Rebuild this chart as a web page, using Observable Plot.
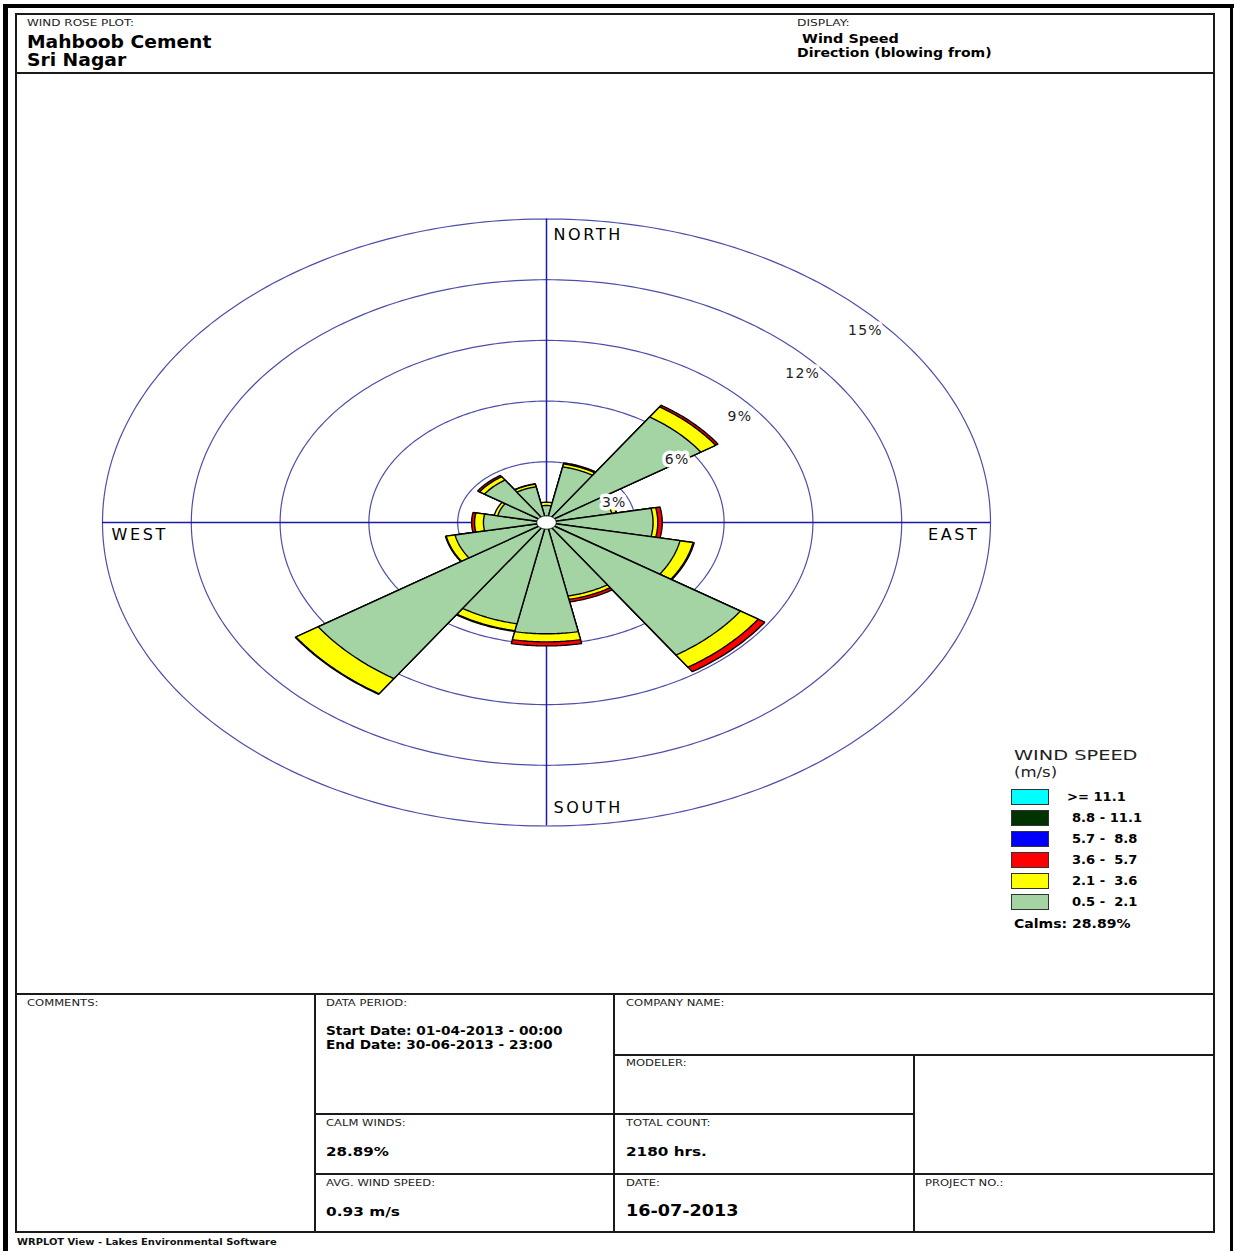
<!DOCTYPE html>
<html><head><meta charset="utf-8">
<script src="https://cdn.jsdelivr.net/npm/d3@7"></script>
<script src="https://cdn.jsdelivr.net/npm/@observablehq/plot@0.6"></script>
<style>
html,body{margin:0;padding:0;background:#fff;}
#page{position:relative;width:1234px;height:1251px;overflow:hidden;font-family:"DejaVu Sans",sans-serif;background:#fff;}
.t{position:absolute;white-space:pre;transform-origin:0 50%;color:#000;}
.ln{position:absolute;background:#1a1a1a;}
.sw{position:absolute;box-sizing:border-box;border:1px solid #333;}
#chart{position:absolute;left:16px;top:74px;}
</style></head><body><div id="page"></div>
<script>
// ---------------- DATA ----------------
const directions = ["N","NNE","NE","ENE","E","ESE","SE","SSE","S","SSW","SW","WSW","W","WNW","NW","NNW"];
// frequency (%) per direction for each wind-speed class (m/s)
const pct_05_21  = [0.84, 2.80, 6.27, 2.25, 3.60, 4.60, 7.88, 3.70, 5.50, 5.10, 9.28, 3.15, 2.13, 1.68, 2.52, 1.80];
const pct_21_36  = [0.16, 0.15, 0.60, 0.15, 0.16, 0.45, 0.72, 0.17, 0.40, 0.35, 0.90, 0.30, 0.30, 0.12, 0.20, 0.13];
const pct_36_57  = [0.00, 0.05, 0.10, 0.02, 0.15, 0.04, 0.27, 0.13, 0.20, 0.04, 0.03, 0.03, 0.10, 0.00, 0.08, 0.02];
const pct_57_88  = [0, 0, 0, 0, 0, 0, 0, 0, 0, 0, 0, 0, 0, 0, 0, 0];
const pct_88_111 = [0, 0, 0, 0, 0, 0, 0, 0, 0, 0, 0, 0, 0, 0, 0, 0];
const pct_ge_111 = [0, 0, 0, 0, 0, 0, 0, 0, 0, 0, 0, 0, 0, 0, 0, 0];
// speed classes, inner (slowest) to outer
const speedClasses = ["0.5 -  2.1", "2.1 -  3.6", "3.6 -  5.7", "5.7 -  8.8", "8.8 - 11.1", ">= 11.1"];
const classColors  = ["#a4d4a4", "#ffff00", "#ff0000", "#0000ff", "#003300", "#00ffff"];
const ringValues = [3, 6, 9, 12, 15];
const ringLabels = ["3%", "6%", "9%", "12%", "15%"];
const compassLabels = ["NORTH", "EAST", "SOUTH", "WEST"];
const calmPct = 28.89;
const calmRadius = 0.33;

// ---------------- LAYOUT (HTML) ----------------
const page = document.getElementById("page");
function L(x, y, w, h, c) {
  const d = document.createElement("div"); d.className = "ln";
  Object.assign(d.style, {left: x+"px", top: y+"px", width: w+"px", height: h+"px"});
  if (c) d.style.background = c;
  page.appendChild(d);
}
function T(str, x, cy, size, weight, sx, color) {
  const d = document.createElement("div"); d.className = "t"; d.textContent = str;
  Object.assign(d.style, {left: x+"px", top: (cy - 0.5*size)+"px", fontSize: size+"px", lineHeight: size+"px",
    fontWeight: weight, transform: `scaleX(${sx})`, color: color || "#000"});
  page.appendChild(d);
}
// outer frame
L(3, 4, 1231, 4, "#000"); L(3, 4, 5, 1247, "#000"); L(1230, 4, 3, 1247, "#000");
// inner frame
L(15, 13, 1200, 2); L(15, 13, 2, 1220); L(1213, 13, 2, 1220); L(15, 1231, 1200, 2);
L(15, 72, 1200, 2); L(15, 993, 1200, 2);
// table
L(314, 993, 2, 239); L(613, 993, 2, 239); L(913, 1054, 2, 178);
L(613, 1054, 602, 2); L(314, 1113, 601, 2); L(314, 1173, 901, 2);

// header
T("WIND ROSE PLOT:", 27, 23.5, 9, "normal", 1.33, "#222");
T("Mahboob Cement", 27, 42, 17, "bold", 1.1);
T("Sri Nagar", 27, 60, 17, "bold", 1.1);
T("DISPLAY:", 797, 23.5, 9, "normal", 1.36, "#222");
T("Wind Speed", 802, 39, 12, "bold", 1.2);
T("Direction (blowing from)", 797, 53, 12, "bold", 1.17);

// table text
const small = (s, x, cy) => T(s, x, cy, 8.5, "normal", 1.36, "#222");
small("COMMENTS:", 27, 1003); small("DATA PERIOD:", 326, 1003); small("CALM WINDS:", 326, 1123);
small("AVG. WIND SPEED:", 326, 1183); small("COMPANY NAME:", 626, 1003); small("MODELER:", 626, 1063);
small("TOTAL COUNT:", 626, 1123); small("DATE:", 626, 1183); small("PROJECT NO.:", 925, 1183);
T("Start Date: 01-04-2013 - 00:00", 326, 1031, 12, "bold", 1.14);
T("End Date: 30-06-2013 - 23:00", 326, 1045, 12, "bold", 1.14);
T(calmPct.toFixed(2) + "%", 326, 1151, 13, "bold", 1.16);
T("0.93 m/s", 326, 1211, 13, "bold", 1.18);
T("2180 hrs.", 626, 1151, 13, "bold", 1.17);
T("16-07-2013", 626, 1211, 16, "bold", 1.1);
T("WRPLOT View - Lakes Environmental Software", 17, 1242, 8.5, "bold", 1.17, "#111");

// legend
T("WIND SPEED", 1014, 755, 14, "normal", 1.38, "#222");
T("(m/s)", 1014, 772, 14, "normal", 1.18, "#222");
const legendOrder = d3.range(speedClasses.length).reverse();
legendOrder.forEach((k, i) => {
  const cy = 797 + i * 21;
  const s = document.createElement("div"); s.className = "sw";
  Object.assign(s.style, {left: "1011px", top: (cy - 8)+"px", width: "38px", height: "16px", background: classColors[k]});
  page.appendChild(s);
  const lab = speedClasses[k];
  T(lab, lab.startsWith(">") ? 1067 : 1072, cy, 12, "bold", 1.09);
});
T("Calms: " + calmPct.toFixed(2) + "%", 1014, 924, 12, "bold", 1.17);

// ---------------- CHART (Plot) ----------------
const deg = Math.PI / 180;
const maxRing = d3.max(ringValues);
const step = 360 / directions.length;
const half = step / 2;
const segments = [pct_05_21, pct_21_36, pct_36_57, pct_57_88, pct_88_111, pct_ge_111];
const cumulative = segments.map((_, k) => directions.map((d, i) => d3.sum(segments.slice(0, k + 1), s => s[i])));

function wedge(id, center, r) {
  const pts = [{id, x: 0, y: 0}];
  for (let j = 0; j <= 30; j++) {
    const a = (center - half + j * step / 30) * deg;
    pts.push({id, x: r * Math.sin(a), y: r * Math.cos(a)});
  }
  pts.push({id, x: 0, y: 0});
  return pts;
}
function ellipsePts(id, r) {
  return d3.range(0, 361, 1).map(a => ({id, x: r * Math.sin(a * deg), y: r * Math.cos(a * deg)}));
}

const ringPts = ringValues.flatMap(r => ellipsePts(r, r));
const petalMarks = d3.range(segments.length - 1, -1, -1).map(k => {
  const data = directions.flatMap((d, i) => segments[k][i] > 0 ? wedge(`${k}-${d}`, i * step, cumulative[k][i]) : []);
  return Plot.line(data, {x: "x", y: "y", z: "id", fill: classColors[k], stroke: "#000", strokeWidth: 1.4, strokeLinejoin: "miter"});
});

const compass = compassLabels.map((label, i) => ({label, x: maxRing * Math.sin(i * 90 * deg), y: maxRing * Math.cos(i * 90 * deg)}));

const svg = Plot.plot({
  width: 1197, height: 918,
  x: {domain: [-maxRing, maxRing], range: [86, 974], axis: null},
  y: {domain: [-maxRing, maxRing], range: [751.5, 144.5], axis: null},
  style: {fontFamily: "DejaVu Sans, sans-serif", background: "transparent"},
  marks: [
    Plot.line(ringPts, {x: "x", y: "y", z: "id", stroke: "#4e4eaa", strokeWidth: 1.2}),
    Plot.ruleX([{x: 0, y1: -maxRing, y2: maxRing}], {x: "x", y1: "y1", y2: "y2", stroke: "#1a1aa8", strokeWidth: 1.5}),
    Plot.ruleY([{y: 0, x1: -maxRing, x2: maxRing}], {y: "y", x1: "x1", x2: "x2", stroke: "#1a1aa8", strokeWidth: 1.5}),
    ...petalMarks,
    Plot.line(ellipsePts("calm", calmRadius), {x: "x", y: "y", z: "id", fill: "white", stroke: "#000", strokeWidth: 1}),
    Plot.text(ringValues, {x: r => r * Math.SQRT1_2, y: r => r * Math.SQRT1_2, text: (r, i) => ringLabels[i],
      dx: 5, dy: 23, fontSize: 14, fill: "#222", stroke: "white", strokeWidth: 7, paintOrder: "stroke", textAnchor: "middle"}),
    Plot.text([compass[0]], {x: "x", y: "y", text: "label", dx: 7, dy: 16, textAnchor: "start", fontSize: 16, fill: "#000"}),
    Plot.text([compass[2]], {x: "x", y: "y", text: "label", dx: 7, dy: -18, textAnchor: "start", fontSize: 16, fill: "#000"}),
    Plot.text([compass[1]], {x: "x", y: "y", text: "label", dx: -11, dy: 12, textAnchor: "end", fontSize: 16, fill: "#000"}),
    Plot.text([compass[3]], {x: "x", y: "y", text: "label", dx: 9, dy: 12, textAnchor: "start", fontSize: 16, fill: "#000"})
  ]
});
svg.id = "chart";
d3.select(svg).selectAll("text").each(function() {
  const t = this.textContent;
  if (compassLabels.includes(t)) this.setAttribute("letter-spacing", "2.6");
  else if (ringLabels.includes(t)) this.setAttribute("letter-spacing", "1.2");
});
page.appendChild(svg);
</script></body></html>
